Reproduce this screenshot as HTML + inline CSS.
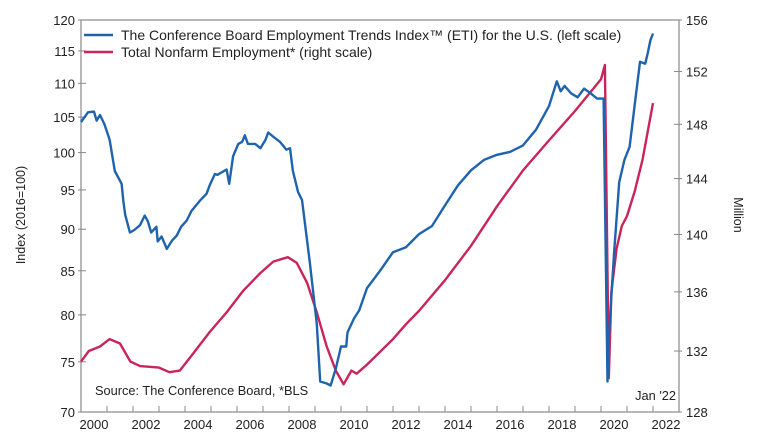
<!DOCTYPE html>
<html><head><meta charset="utf-8">
<style>
body{margin:0;background:#fff;}
svg{display:block;font-family:"Liberation Sans",Arial,sans-serif;}
</style></head>
<body>
<svg id="chart" width="765" height="445" viewBox="0 0 765 445">
<rect x="0" y="0" width="765" height="445" fill="#fff"/>
<g id="grid"></g>
<g id="series"></g>
<g>
 <line x1="84" y1="35" x2="113" y2="35" stroke="#1f63ad" stroke-width="2.5"/>
 <text x="121" y="40" font-size="14" fill="#222">The Conference Board Employment Trends Index™ (ETI) for the U.S. (left scale)</text>
 <line x1="84" y1="52" x2="113" y2="52" stroke="#c9255a" stroke-width="2.5"/>
 <text x="121" y="57" font-size="14" fill="#222">Total Nonfarm Employment* (right scale)</text>
</g>
<text x="95" y="395" font-size="12.8" fill="#222">Source: The Conference Board, *BLS</text>
<text x="676" y="400" font-size="12.8" fill="#222" text-anchor="end">Jan '22</text>
<text transform="translate(25,215) rotate(-90)" font-size="12.5" fill="#222" text-anchor="middle">Index (2016=100)</text>
<text transform="translate(734,215) rotate(90)" font-size="12.5" fill="#222" text-anchor="middle">Million</text>
</svg>
<script>
const leftTicks=[70,75,80,85,90,95,100,105,110,115,120];
const rightTicks=[128,132,136,140,144,148,152,156];
const yearLabels=[2000,2002,2004,2006,2008,2010,2012,2014,2016,2018,2020,2022];
const etiYears=[2000.0,2000.27,2000.5,2000.6,2000.73,2000.9,2001.1,2001.3,2001.56,2001.63,2001.7,2001.88,2002.05,2002.27,2002.45,2002.57,2002.7,2002.9,2002.95,2003.1,2003.3,2003.5,2003.68,2003.85,2004.07,2004.25,2004.45,2004.6,2004.83,2004.95,2005.15,2005.25,2005.4,2005.6,2005.7,2005.85,2006.05,2006.2,2006.3,2006.42,2006.7,2006.9,2007.1,2007.2,2007.4,2007.65,2007.9,2008.04,2008.15,2008.35,2008.5,2008.8,2009.07,2009.2,2009.45,2009.6,2009.8,2010.0,2010.2,2010.25,2010.5,2010.7,2011.0,2011.5,2012.0,2012.5,2013.0,2013.5,2014.0,2014.5,2015.0,2015.5,2016.0,2016.5,2017.0,2017.5,2018.0,2018.3,2018.45,2018.6,2018.85,2019.1,2019.35,2019.6,2019.85,2020.1,2020.17,2020.25,2020.3,2020.5,2020.7,2020.9,2021.1,2021.3,2021.5,2021.7,2021.8,2021.9,2022.0];
const etiValues=[104.3,105.7,105.8,104.5,105.3,104,101.8,97.5,95.8,93.5,91.8,89.6,89.9,90.5,91.7,91,89.6,90.3,88.5,89.1,87.6,88.6,89.2,90.3,91.1,92.3,93.1,93.7,94.5,95.6,97.1,97,97.3,97.7,95.8,99.5,101.2,101.5,102.4,101.2,101.2,100.6,101.8,102.8,102.2,101.5,100.4,100.6,97.5,94.7,93.7,86,79,73,72.8,72.6,74.3,76.6,76.6,78.1,79.6,80.5,83,85,87.2,87.8,89.4,90.4,93,95.6,97.6,99,99.7,100.1,101,103.2,106.6,110.3,108.8,109.6,108.5,107.9,109.2,108.5,107.7,107.7,90,73,77.5,87,96,99,100.8,106.9,113.3,113,114.7,116.7,117.8];
const nfYears=[2000.0,2000.3,2000.73,2001.1,2001.5,2001.9,2002.27,2003.0,2003.4,2003.8,2004.3,2004.96,2005.6,2006.25,2006.9,2007.4,2007.96,2008.3,2008.7,2009.07,2009.45,2009.8,2010.1,2010.4,2010.6,2011.0,2012.0,2012.5,2013.0,2014.0,2015.0,2016.0,2017.0,2018.0,2019.0,2019.5,2020.0,2020.15,2020.3,2020.4,2020.6,2020.8,2021.0,2021.3,2021.6,2022.0];
const nfValues=[131.3,132,132.3,132.8,132.5,131.3,131,130.9,130.6,130.7,131.8,133.3,134.6,136.1,137.3,138.1,138.4,138,136.6,134.6,132.3,130.7,129.8,130.7,130.5,131.1,132.8,133.8,134.7,136.8,139.2,142,144.6,146.8,149,150.2,151.4,152.5,130.2,136,139,140.6,141.3,143.1,145.4,149.6];

const X0=81,X1=679,YT=20,YB=412,T0=2000,T1=2023;
const xs=t=>X0+(t-T0)*(X1-X0)/(T1-T0);
const yl=v=>YB-(YB-YT)*Math.log(v/70)/Math.log(120/70);
const yr=v=>YB-(YB-YT)*Math.log(v/128)/Math.log(156/128);
const NS="http://www.w3.org/2000/svg";
function mk(tag,attrs,parent){const e=document.createElementNS(NS,tag);for(const k in attrs)e.setAttribute(k,attrs[k]);parent.appendChild(e);return e;}
const g=document.getElementById('grid');
const frame=mk('rect',{x:X0,y:YT,width:X1-X0,height:YB-YT,fill:'none',stroke:'#888','stroke-width':1.2},g);


leftTicks.forEach(v=>{
 const y=yl(v);
 const l=mk('line',{x1:X0-3,x2:X0+5,y1:y,y2:y,stroke:'#888'},g);
 
 
 const t=mk('text',{x:X0-6,y:y+5,'font-size':13,'text-anchor':'end',fill:'#222'},g);
 t.textContent=v;
 
 
});
rightTicks.forEach(v=>{
 const y=yr(v);
 const l=mk('line',{x1:X1-5,x2:X1+3,y1:y,y2:y,stroke:'#888'},g);
 
 
 const t=mk('text',{x:X1+7,y:y+5,'font-size':13,fill:'#222'},g);
 t.textContent=v;
 
 
});
for(let yv=T0+1;yv<T1;yv++){
 const x=xs(yv);
 const l=mk('line',{x1:x,x2:x,y1:YB-6,y2:YB,stroke:'#888'},g);
 
 
}
yearLabels.forEach(yv=>{
 const t=mk('text',{x:xs(yv+0.5),y:YB+17,'font-size':13,'text-anchor':'middle',fill:'#222'},g);
 t.textContent=yv;
 
 
});
const s=document.getElementById('series');
const dNf=nfYears.map((t,i)=>(i?'L':'M')+xs(t).toFixed(1)+','+yr(nfValues[i]).toFixed(1)).join('');
const pn=mk('path',{d:dNf,fill:'none',stroke:'#c9255a','stroke-width':2.4,'stroke-linejoin':'round'},s);


const dEti=etiYears.map((t,i)=>(i?'L':'M')+xs(t).toFixed(1)+','+yl(etiValues[i]).toFixed(1)).join('');
const pe=mk('path',{d:dEti,fill:'none',stroke:'#1f63ad','stroke-width':2.4,'stroke-linejoin':'round'},s);


</script>
</body></html>
